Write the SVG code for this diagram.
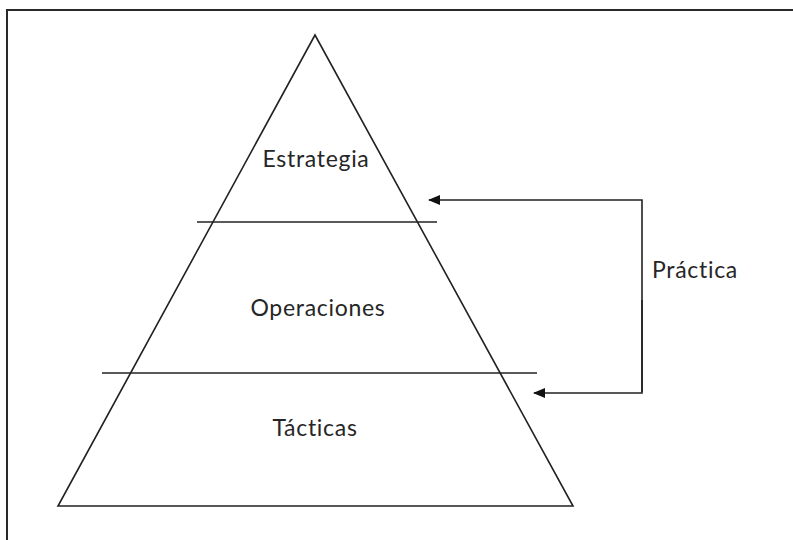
<svg xmlns="http://www.w3.org/2000/svg" width="793" height="540" viewBox="0 0 793 540">
  <style>
    .ln { stroke: #222; stroke-width: 1.6; fill: none; }
    .frame { stroke: #2a2a2a; stroke-width: 2; fill: none; }
    .lbl { font-family: "Lato", "Liberation Sans", sans-serif; font-size: 23px; letter-spacing: 0.7px; fill: #262626; }
  </style>
  <defs>
    <marker id="arrow" markerWidth="12" markerHeight="10" refX="11" refY="5" orient="auto" markerUnits="userSpaceOnUse">
      <path d="M0,0 L12,5 L0,10 Z" fill="#111"/>
    </marker>
  </defs>

  <rect width="793" height="540" fill="#fff"/>
  <!-- frame: top and left edges -->
  <path class="frame" d="M793,10 H7 V540"/>

  <g id="pyramid">
    <path class="ln" d="M315,35 L58,506 L573,506 Z"/>
  </g>
  <g id="divider-top">
    <line class="ln" x1="197" y1="222" x2="437" y2="222"/>
  </g>
  <g id="divider-bottom">
    <line class="ln" x1="102" y1="373" x2="537" y2="373"/>
  </g>

  <g id="estrategia">
    <text class="lbl" x="316" y="167" text-anchor="middle">Estrategia</text>
  </g>
  <g id="operaciones">
    <text class="lbl" x="318" y="316" text-anchor="middle">Operaciones</text>
  </g>
  <g id="tacticas">
    <text class="lbl" x="315" y="436" text-anchor="middle">Tácticas</text>
  </g>

  <g id="connectors">
    <path class="ln" d="M642,392 V200 H429" marker-end="url(#arrow)"/>
    <path class="ln" d="M642,300 V393 H534" marker-end="url(#arrow)"/>
  </g>
  <g id="practica">
    <text class="lbl" x="652" y="278">Práctica</text>
  </g>
</svg>
